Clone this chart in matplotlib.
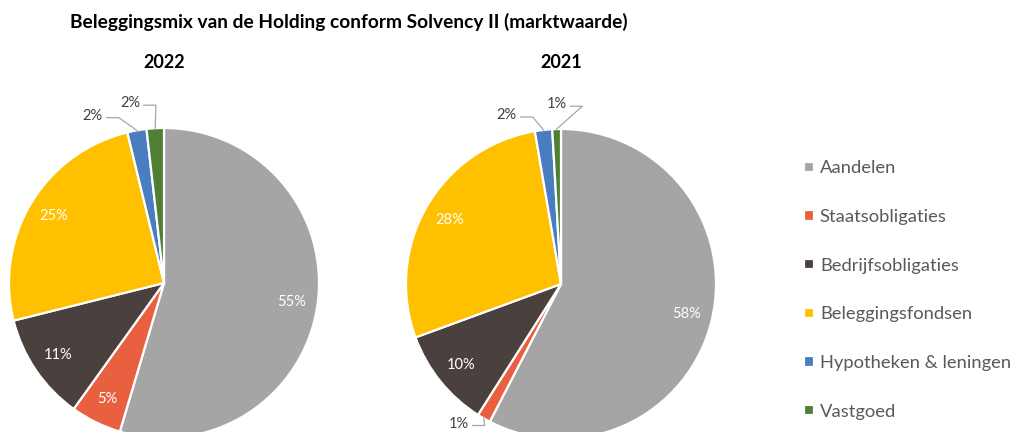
import numpy as np
import matplotlib.pyplot as plt

plt.rcParams['font.family'] = ['Lato', 'DejaVu Sans']

# categories and values (percent of market value)
categories = ['Aandelen', 'Staatsobligaties', 'Bedrijfsobligaties',
              'Beleggingsfondsen', 'Hypotheken & leningen', 'Vastgoed']
values_2022 = [54.6, 5.3, 11.2, 25.1, 2.0, 1.8]
values_2021 = [57.6, 1.4, 10.4, 27.9, 1.8, 0.9]
colors = ['#A5A5A5', '#E8603F', '#4A403D', '#FFC000', '#4A7DBF', '#4E7F34']

title = 'Beleggingsmix van de Holding conform Solvency II (marktwaarde)'

# layout (pixel coordinates, origin bottom-left)
W, H = 1018, 432
R = 155
pies = [
  # year, values, center, outside-label positions (in radius units)
  ('2022', values_2022, (164, 149), {4: (-0.46, 1.08), 5: (-0.22, 1.16)}),
  ('2021', values_2021, (561, 148), {1: (-0.66, -0.9), 4: (-0.35, 1.09), 5: (-0.03, 1.16)}),
]

fig = plt.figure(figsize=(W / 100, H / 100), dpi=100)
ax = fig.add_axes([0, 0, 1, 1])

wedges = None
for year, vals, center, outside in pies:
  w, _ = ax.pie(vals, colors=colors, startangle=90, counterclock=False,
                center=center, radius=R,
                wedgeprops=dict(edgecolor='white', linewidth=1.6))
  if wedges is None:
    wedges = w
  for i, (wd, v) in enumerate(zip(w, vals)):
    mid = np.deg2rad((wd.theta1 + wd.theta2) / 2)
    txt = '%.0f%%' % v
    if i in outside:
      lx = center[0] + outside[i][0] * R
      ly = center[1] + outside[i][1] * R
      ax.text(lx, ly, txt, ha='center', va='center', fontsize=10.5, color='#404040')
      ex = center[0] + np.cos(mid) * R
      ey = center[1] + np.sin(mid) * R
      sx = lx + 14
      ax.plot([sx, sx + 12, ex], [ly - 2, ly - 2, ey], color='#A6A6A6', lw=0.9)
    else:
      d = 0.83 * R
      ax.text(center[0] + np.cos(mid) * d, center[1] + np.sin(mid) * d, txt,
              ha='center', va='center', fontsize=10.5, color='white')
  ax.text(center[0], H - 63, year, ha='center', va='center', fontsize=13,
          fontweight='bold', color='black')

ax.text(70, H - 22, title, ha='left', va='center', fontsize=13.8,
        fontweight='bold', color='black')

ax.set_xlim(0, W)
ax.set_ylim(0, H)
ax.set_aspect('equal')
ax.axis('off')

leg = ax.legend(wedges, categories, loc='upper left', bbox_to_anchor=(797 / W, 1 - 153 / H),
                frameon=False, fontsize=13.2, handlelength=0.5, handleheight=0.5,
                handletextpad=0.35, labelspacing=1.78, borderaxespad=0)
for t in leg.get_texts():
  t.set_color('#595959')

plt.savefig('out.png', dpi=100)
